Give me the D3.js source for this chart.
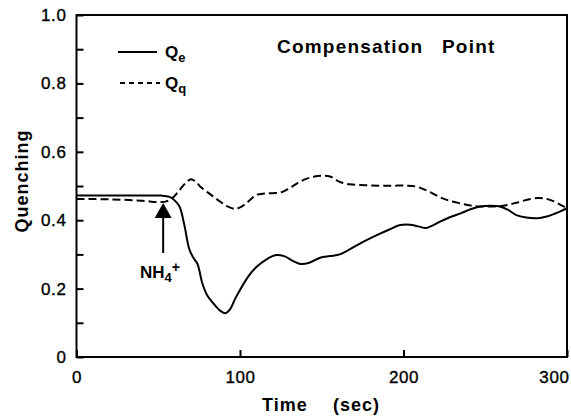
<!DOCTYPE html>
<html>
<head>
<meta charset="utf-8">
<script src="https://cdn.jsdelivr.net/npm/d3@7"></script>
<style>
  html, body { margin: 0; padding: 0; background: #fff; }
  svg { display: block; font-family: "Liberation Sans", Arial, Helvetica, sans-serif; }
</style>
</head>
<body>
<svg id="chart" width="571" height="416"></svg>
<script>
// ---- data ----
const qeTime = [0, 20, 40, 52, 57, 60, 63, 66, 69, 71.5, 74, 77, 80, 84, 88, 91, 94, 97, 100, 105, 110, 116, 122, 127, 132, 137, 142, 149, 155, 161, 166, 172, 178, 184, 191, 198, 204, 209, 214, 218, 222, 228, 235, 241, 247, 253, 259, 264, 269, 275, 282, 287, 292, 296, 300];
const qeValues = [0.472, 0.472, 0.472, 0.472, 0.468, 0.458, 0.44, 0.385, 0.315, 0.29, 0.272, 0.215, 0.18, 0.155, 0.135, 0.128, 0.14, 0.17, 0.196, 0.235, 0.263, 0.285, 0.298, 0.295, 0.282, 0.272, 0.275, 0.29, 0.295, 0.30, 0.312, 0.328, 0.343, 0.357, 0.372, 0.386, 0.387, 0.382, 0.377, 0.385, 0.395, 0.408, 0.42, 0.432, 0.44, 0.442, 0.44, 0.43, 0.415, 0.408, 0.406, 0.41, 0.418, 0.426, 0.435];
const qqTime = [0, 20, 40, 50, 55, 59, 63, 67, 70, 73, 76, 80, 84, 88, 92, 97, 101, 104, 107, 110, 115, 120, 125, 130, 135, 140, 145, 150, 155, 161, 167, 177, 186, 194, 202, 208, 215, 222, 228, 235, 241, 247, 253, 259, 264, 269, 275, 282, 287, 292, 296, 300];
const qqValues = [0.462, 0.461, 0.457, 0.453, 0.455, 0.466, 0.488, 0.51, 0.52, 0.512, 0.497, 0.482, 0.468, 0.454, 0.441, 0.433, 0.44, 0.45, 0.463, 0.474, 0.478, 0.479, 0.481, 0.493, 0.508, 0.52, 0.527, 0.53, 0.528, 0.512, 0.505, 0.502, 0.501, 0.501, 0.501, 0.498, 0.485, 0.468, 0.457, 0.449, 0.443, 0.44, 0.44, 0.441, 0.445, 0.451, 0.459, 0.465, 0.463, 0.455, 0.445, 0.435];
const xTicks = [0, 100, 200, 300];
const yTicks = [0, 0.1, 0.2, 0.3, 0.4, 0.5, 0.6, 0.7, 0.8, 0.9, 1.0];
const xDomain = [0, 300];
const yDomain = [0, 1];
const additionTime = 53;   // NH4+ addition marker
const titleText = "Compensation Point";
const xLabel = "Time";
const xUnit = "(sec)";
const yLabel = "Quenching";

// ---- layout ----
const svg = d3.select("#chart");
const mLeft = 76.5, mRight = 567, mTop = 15, mBottom = 357;
const x = d3.scaleLinear().domain(xDomain).range([mLeft, mRight]);
const y = d3.scaleLinear().domain(yDomain).range([mBottom, mTop]);
const font = '"Liberation Sans", Arial, Helvetica, sans-serif';

// frame
svg.append("rect")
  .attr("x", mLeft).attr("y", mTop)
  .attr("width", mRight - mLeft).attr("height", mBottom - mTop)
  .attr("fill", "none").attr("stroke", "#000").attr("stroke-width", 2);

// y axis
const yAxis = d3.axisLeft(y)
  .tickValues(yTicks)
  .tickSizeInner(-7).tickSizeOuter(0).tickPadding(10)
  .tickFormat((d, i) => (i % 2 === 0) ? (d === 0 ? "0" : d3.format(".1f")(d)) : "");
const gy = svg.append("g").attr("transform", `translate(${mLeft},0)`).call(yAxis);
gy.select(".domain").remove();
gy.selectAll(".tick line").attr("stroke", "#000").attr("stroke-width", 2);
gy.selectAll(".tick text").attr("font-size", 17).attr("font-family", font)
  .attr("fill", "#000").attr("stroke", "#000").attr("stroke-width", 0.35)
  .attr("letter-spacing", 0.6);

// x axis
const xAxis = d3.axisBottom(x)
  .tickValues(xTicks)
  .tickSizeInner(-7).tickSizeOuter(0).tickPadding(14)
  .tickFormat(d3.format("d"));
const gx = svg.append("g").attr("transform", `translate(0,${mBottom})`).call(xAxis);
gx.select(".domain").remove();
gx.selectAll(".tick line").attr("stroke", "#000").attr("stroke-width", 2);
gx.selectAll(".tick text").attr("font-size", 17).attr("font-family", font)
  .attr("fill", "#000").attr("stroke", "#000").attr("stroke-width", 0.35)
  .attr("letter-spacing", 0.6)
  .attr("text-anchor", d => d === xDomain[1] ? "end" : "middle")
  .attr("x", d => d === xDomain[1] ? 2 : 0);

// axis titles
svg.append("text").attr("x", 262).attr("y", 411)
  .attr("font-size", 18).attr("font-weight", "bold").attr("letter-spacing", 1)
  .attr("font-family", font).text(xLabel);
svg.append("text").attr("x", 333).attr("y", 411)
  .attr("font-size", 18).attr("font-weight", "bold").attr("letter-spacing", 1)
  .attr("font-family", font).text(xUnit);
svg.append("text")
  .attr("transform", "translate(28,181) rotate(-90)")
  .attr("text-anchor", "middle")
  .attr("font-size", 18).attr("font-weight", "bold").attr("letter-spacing", 1)
  .attr("font-family", font).text(yLabel);

// title
const tw = titleText.split(" ");
svg.append("text").attr("x", 277).attr("y", 53)
  .attr("font-size", 19).attr("font-weight", "bold").attr("letter-spacing", 1.2)
  .attr("font-family", font).text(tw[0]);
svg.append("text").attr("x", 442).attr("y", 53)
  .attr("font-size", 19).attr("font-weight", "bold").attr("letter-spacing", 1.2)
  .attr("font-family", font).text(tw[1]);

// lines
const qeData = qeTime.map((t, i) => ({t, v: qeValues[i]}));
const qqData = qqTime.map((t, i) => ({t, v: qqValues[i]}));
const line = d3.line().x(d => x(d.t)).y(d => y(d.v)).curve(d3.curveCatmullRom.alpha(0.5));

svg.append("path").datum(qqData).attr("d", line)
  .attr("fill", "none").attr("stroke", "#000").attr("stroke-width", 2)
  .attr("stroke-dasharray", "8,4");
svg.append("path").datum(qeData).attr("d", line)
  .attr("fill", "none").attr("stroke", "#000").attr("stroke-width", 2);

// legend
const lg = svg.append("g");
lg.append("line").attr("x1", 118).attr("x2", 157).attr("y1", 52).attr("y2", 52)
  .attr("stroke", "#000").attr("stroke-width", 2.2);
lg.append("line").attr("x1", 120).attr("x2", 160).attr("y1", 83).attr("y2", 83)
  .attr("stroke", "#000").attr("stroke-width", 2).attr("stroke-dasharray", "5,4");
const q1 = lg.append("text").attr("x", 165).attr("y", 58)
  .attr("font-size", 17).attr("font-weight", "bold").attr("font-family", font);
q1.append("tspan").text("Q");
q1.append("tspan").attr("dy", 4).attr("font-size", 13).text("e");
const q2 = lg.append("text").attr("x", 165).attr("y", 89)
  .attr("font-size", 17).attr("font-weight", "bold").attr("font-family", font);
q2.append("tspan").text("Q");
q2.append("tspan").attr("dy", 4).attr("font-size", 13).text("q");

// NH4+ arrow
const ax = x(additionTime);
svg.append("line").attr("x1", ax).attr("x2", ax).attr("y1", 215).attr("y2", 253)
  .attr("stroke", "#000").attr("stroke-width", 2);
svg.append("path")
  .attr("d", `M${ax},203 L${ax - 8.5},218 L${ax + 8.5},218 Z`)
  .attr("fill", "#000");
const nh = svg.append("text").attr("x", 140).attr("y", 278)
  .attr("font-size", 17).attr("font-weight", "bold").attr("font-family", font);
nh.append("tspan").text("NH");
nh.append("tspan").attr("dy", 4).attr("font-size", 13).text("4");
nh.append("tspan").attr("dy", -10).attr("font-size", 14).text("+");
</script>
</body>
</html>
